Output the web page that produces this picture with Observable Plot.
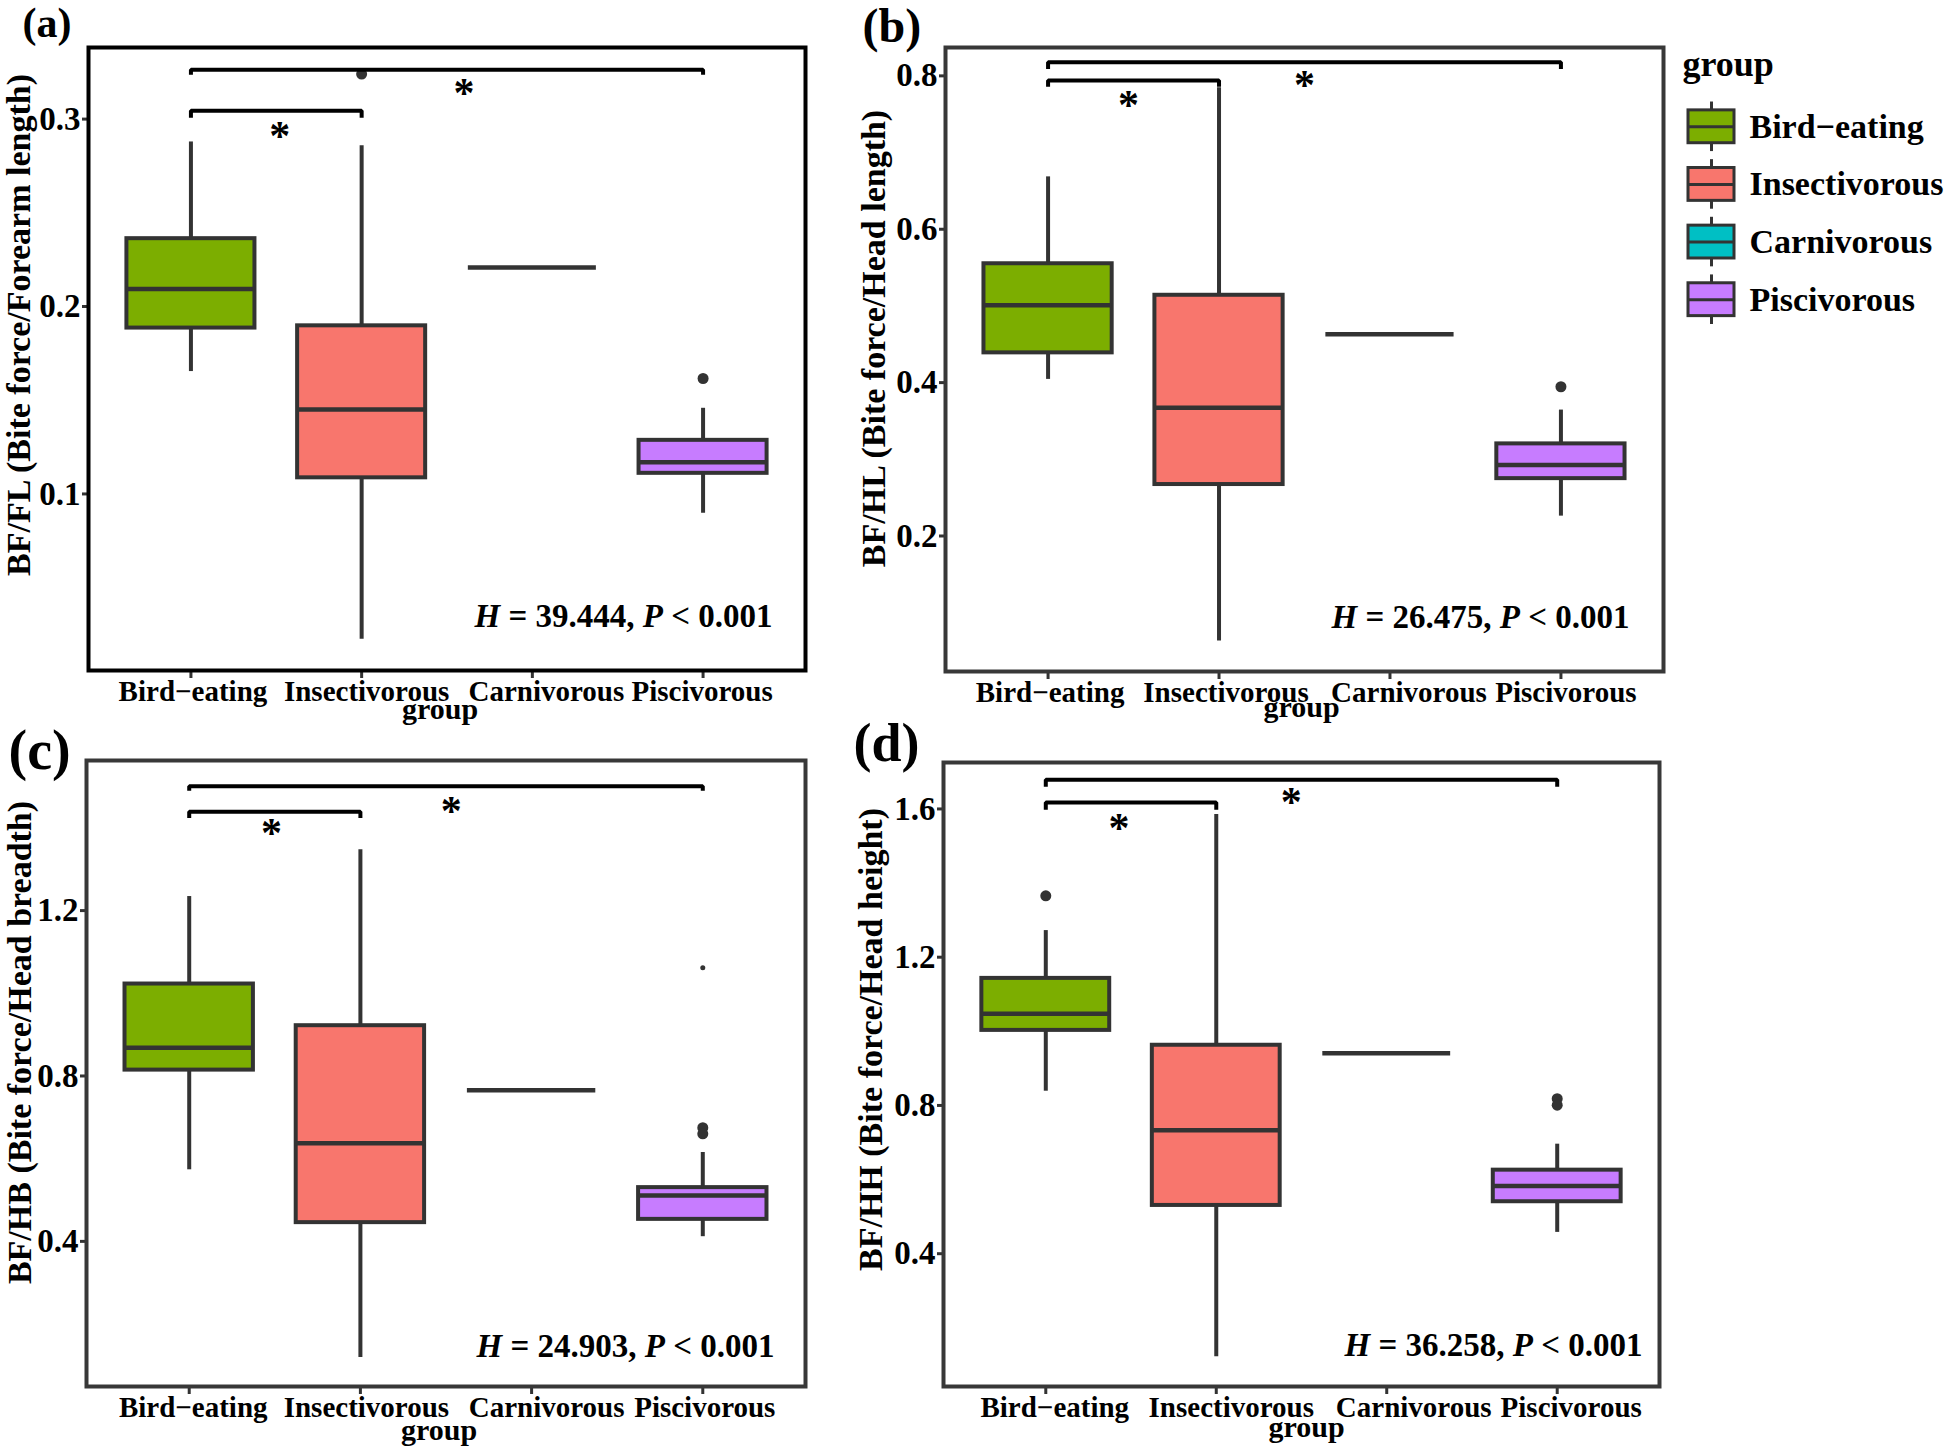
<!DOCTYPE html>
<html><head><meta charset="utf-8">
<script src="https://cdn.jsdelivr.net/npm/d3@7"></script>
<script src="https://cdn.jsdelivr.net/npm/@observablehq/plot@0.6"></script>
<style>
body{margin:0;background:#fff;}
#fig{position:relative;width:1946px;height:1449px;background:#fff;overflow:hidden;}
.panel{position:absolute;}
</style></head><body><div id="fig"></div>
<script>
// ---------------- data ----------------
const groups = ["Bird−eating", "Insectivorous", "Carnivorous", "Piscivorous"];
const groupColors = ["#7CAE00", "#F8766D", "#00BFC4", "#C77CFF"];
const panelLabels = ["(a)", "(b)", "(c)", "(d)"];
const yTitles = [
  "BF/FL (Bite force/Forearm length)",
  "BF/HL (Bite force/Head length)",
  "BF/HB (Bite force/Head breadth)",
  "BF/HH (Bite force/Head height)"
];
const xTitle = "group";
const yTicks = [[0.1, 0.2, 0.3], [0.2, 0.4, 0.6, 0.8], [0.4, 0.8, 1.2], [0.4, 0.8, 1.2, 1.6]];
const yDomains = [[0.0058, 0.3382], [0.0233, 0.837], [0.049, 1.563], [0.0417, 1.7253]];
// box statistics, one row per panel, one value per group
const whiskerLow = [[0.1653, 0.0225, 0.2208, 0.0897], [0.4042, 0.0632, 0.4632, 0.2259], [0.5731, 0.1194, 0.7655, 0.4113], [0.8384, 0.1218, 0.9411, 0.4575]];
const q1 = [[0.1885, 0.1086, 0.2208, 0.1110], [0.4388, 0.2671, 0.4632, 0.2748], [0.8142, 0.4453, 0.7655, 0.4532], [1.0025, 0.5302, 0.9411, 0.5402]];
const median = [[0.2093, 0.1450, 0.2208, 0.1169], [0.5008, 0.3672, 0.4632, 0.2927], [0.8685, 0.6376, 0.7655, 0.5110], [1.0476, 0.7331, 0.9411, 0.5828]];
const q3 = [[0.2362, 0.1897, 0.2208, 0.1286], [0.5550, 0.5139, 0.4632, 0.3201], [1.0224, 0.9216, 0.7655, 0.5300], [1.1428, 0.9624, 0.9411, 0.6254]];
const whiskerHigh = [[0.2878, 0.2858, 0.2208, 0.1457], [0.6683, 0.7845, 0.4632, 0.3642], [1.234, 1.347, 0.7655, 0.615], [1.2718, 1.585, 0.9411, 0.6955]];
// outliers: [group position (1-4), value]
const outliers = [[[2, 0.324], [4, 0.1616]], [[4, 0.3946]], [[4, 0.675], [4, 0.660]], [[1, 1.3657], [4, 0.8183], [4, 0.8008]]];
const strayPoints = [[], [], [[4, 1.062]], []];
// significance brackets (Bird-eating vs Insectivorous, Bird-eating vs Piscivorous)
const bracketFrom = [1, 1];
const bracketTo = [2, 4];
const bracketBar = [[0.3044, 0.3263], [0.7940, 0.8179], [1.4388, 1.5010], [1.6175, 1.6790]];
const bracketTip = [[0.3007, 0.3236], [0.7857, 0.8089], [1.4240, 1.4897], [1.5975, 1.6600]];
const starX = [[1.52, 2.60], [1.47, 2.50], [1.48, 2.53], [1.43, 2.44]];
const starY = [[0.2951, 0.3181], [0.7714, 0.7982], [1.405, 1.460], [1.570, 1.6376]];
const statH = ["39.444", "26.475", "24.903", "36.258"];
const statP = "0.001";

// ---------------- layout / style ----------------
const FONT = "'Liberation Serif', 'Times New Roman', serif";
const INK = "#333333";
const layout = [
  {left: 0,   top: 0,   width: 840, height: 730, mL: 88,  mT: 47, mR: 35, mB: 60, frame: "#000",
   lab: {dx: -66, dy: -11, fs: 42}, yt: {dx: -69, dy: -34}, xt: {dx: -7, dy: 48}, hs: {dx: -33, dy: -44},
   tickShift: [2, 5, 14, -1]},
  {left: 840, top: 0,   width: 840, height: 730, mL: 105, mT: 47, mR: 17, mB: 59, frame: "#383838",
   lab: {dx: -83, dy: -6, fs: 48}, yt: {dx: -71, dy: -21}, xt: {dx: -3, dy: 45}, hs: {dx: -34, dy: -44},
   tickShift: [2, 7, 19, 5]},
  {left: 0,   top: 725, width: 840, height: 724, mL: 86,  mT: 35, mR: 35, mB: 63, frame: "#383838",
   lab: {dx: -78, dy: 8, fs: 56}, yt: {dx: -66, dy: -31}, xt: {dx: -7, dy: 53}, hs: {dx: -31, dy: -30},
   tickShift: [4, 6, 15, 2]},
  {left: 840, top: 725, width: 840, height: 724, mL: 103, mT: 37, mR: 21, mB: 63, frame: "#383838",
   lab: {dx: -90, dy: -2, fs: 54}, yt: {dx: -72, dy: -35}, xt: {dx: 5, dy: 50}, hs: {dx: -17, dy: -31},
   tickShift: [9, 15, 27, 14]}
];

const fig = document.getElementById("fig");

function place(node, left, top) {
  const d = document.createElement("div");
  d.className = "panel";
  d.style.left = left + "px";
  d.style.top = top + "px";
  d.appendChild(node);
  fig.appendChild(d);
}

function italicize(svg) {
  const ns = "http://www.w3.org/2000/svg";
  svg.querySelectorAll("text").forEach(t => {
    const m = t.textContent.match(/^H = (.*), P < (.*)$/);
    if (!m) return;
    while (t.firstChild) t.removeChild(t.firstChild);
    const parts = [["H", true], [" = " + m[1] + ", ", false], ["P", true], [" < " + m[2], false]];
    for (const [txt, it] of parts) {
      const ts = document.createElementNS(ns, "tspan");
      if (it) ts.setAttribute("font-style", "italic");
      ts.textContent = txt;
      t.appendChild(ts);
    }
  });
}

function panel(p) {
  const L = layout[p];
  const boxes = groups.map((g, i) => ({g, pos: i + 1, lo: whiskerLow[p][i], q1: q1[p][i], med: median[p][i], q3: q3[p][i], hi: whiskerHigh[p][i]}));
  const out = outliers[p].map(([pos, v]) => ({pos, v}));
  const stray = strayPoints[p].map(([pos, v]) => ({pos, v}));
  const brackets = bracketFrom.flatMap((f, k) => [
    {k, x: f, y: bracketTip[p][k]},
    {k, x: f, y: bracketBar[p][k]},
    {k, x: bracketTo[k], y: bracketBar[p][k]},
    {k, x: bracketTo[k], y: bracketTip[p][k]}
  ]);
  const stars = starX[p].map((x, k) => ({x, y: starY[p][k]}));
  const stat = `H = ${statH[p]}, P < ${statP}`;
  const half = 0.375;
  const tickLabels = boxes.map((b, i) =>
    Plot.text([b], {x: "pos", text: "g", frameAnchor: "bottom", lineAnchor: "bottom", dy: 30, dx: L.tickShift[i],
      fontSize: 29, fontWeight: "bold", fontFamily: FONT, fill: "#000"}));
  const chart = Plot.plot({
    width: L.width, height: L.height,
    marginLeft: L.mL, marginTop: L.mT, marginRight: L.mR, marginBottom: L.mB,
    style: {background: "transparent", overflow: "visible", fontFamily: FONT, color: "#000"},
    x: {domain: [0.4, 4.6]},
    y: {domain: yDomains[p]},
    color: {domain: groups, range: groupColors},
    marks: [
      Plot.ruleX(boxes, {x: "pos", y1: "q3", y2: "hi", stroke: INK, strokeWidth: 4}),
      Plot.ruleX(boxes, {x: "pos", y1: "lo", y2: "q1", stroke: INK, strokeWidth: 4}),
      Plot.rect(boxes.filter(d => d.q3 > d.q1), {x1: d => d.pos - half, x2: d => d.pos + half, y1: "q1", y2: "q3", fill: "g", stroke: INK, strokeWidth: 4}),
      Plot.ruleY(boxes, {y: "med", x1: d => d.pos - half, x2: d => d.pos + half, stroke: INK, strokeWidth: 4.5}),
      Plot.dot(out, {x: "pos", y: "v", r: 5.5, fill: INK}),
      Plot.dot(stray, {x: "pos", y: "v", r: 2.5, fill: INK}),
      Plot.line(brackets, {x: "x", y: "y", z: "k", stroke: "#000", strokeWidth: 4, strokeLinejoin: "miter", strokeLinecap: "butt"}),
      Plot.text(stars, {x: "x", y: "y", text: () => "*", fontSize: 42, fontWeight: "bold", fontFamily: FONT, dy: 8, fill: "#000"}),
      Plot.axisX([1, 2, 3, 4], {tickFormat: () => "", tickSize: 8, tickPadding: 2, stroke: INK, strokeWidth: 3, label: null}),
      ...tickLabels,
      Plot.axisY(yTicks[p], {tickFormat: d => d.toFixed(1), tickSize: 6, tickPadding: 2, fontSize: 33, fontWeight: "bold", fontFamily: FONT, fill: "#000", stroke: INK, strokeWidth: 3, label: null}),
      Plot.text([yTitles[p]], {text: d => d, frameAnchor: "left", textAnchor: "middle", lineAnchor: "middle", rotate: -90, dx: L.yt.dx, dy: L.yt.dy, fontSize: 34, fontWeight: "bold", fontFamily: FONT, fill: "#000"}),
      Plot.text([xTitle], {text: d => d, frameAnchor: "bottom", textAnchor: "middle", lineAnchor: "bottom", dx: L.xt.dx, dy: L.xt.dy, fontSize: 30, fontWeight: "bold", fontFamily: FONT, fill: "#000"}),
      Plot.text([stat], {text: d => d, frameAnchor: "bottom-right", textAnchor: "end", lineAnchor: "bottom", dx: L.hs.dx, dy: L.hs.dy, fontSize: 33, fontWeight: "bold", fontFamily: FONT, fill: "#000"}),
      Plot.text([panelLabels[p]], {text: d => d, frameAnchor: "top-left", textAnchor: "start", lineAnchor: "bottom", dx: L.lab.dx, dy: L.lab.dy, fontSize: L.lab.fs, fontWeight: "bold", fontFamily: FONT, fill: "#000"}),
      Plot.frame({stroke: L.frame, strokeWidth: 4})
    ]
  });
  italicize(chart);
  place(chart, L.left, L.top);
}

function legend() {
  const items = groups.map((g, i) => ({g, i}));
  const chart = Plot.plot({
    width: 306, height: 360,
    marginLeft: 48, marginRight: 212, marginTop: 126.3, marginBottom: 60.8,
    style: {background: "transparent", overflow: "visible", fontFamily: FONT, color: "#000"},
    x: {domain: [0, 1], axis: null},
    y: {domain: [0, 3], reverse: true, axis: null},
    color: {domain: groups, range: groupColors},
    marks: [
      Plot.ruleX(items, {x: 0.5, y1: d => d.i - 0.43, y2: d => d.i + 0.43, stroke: INK, strokeWidth: 3}),
      Plot.rect(items, {x1: 0, x2: 1, y1: d => d.i - 0.285, y2: d => d.i + 0.285, fill: "g", stroke: INK, strokeWidth: 3}),
      Plot.ruleY(items, {y: "i", x1: 0, x2: 1, stroke: INK, strokeWidth: 3}),
      Plot.text(items, {x: 1, y: "i", text: "g", dx: 15, textAnchor: "start", fontSize: 34, fontWeight: "bold", fontFamily: FONT, fill: "#000"}),
      Plot.text([xTitle], {text: d => d, frameAnchor: "top-left", textAnchor: "start", lineAnchor: "bottom", dx: -6, dy: -51, fontSize: 36, fontWeight: "bold", fontFamily: FONT, fill: "#000"})
    ]
  });
  place(chart, 1640, 0);
}

[0, 1, 2, 3].forEach(panel);
legend();
</script></body></html>
